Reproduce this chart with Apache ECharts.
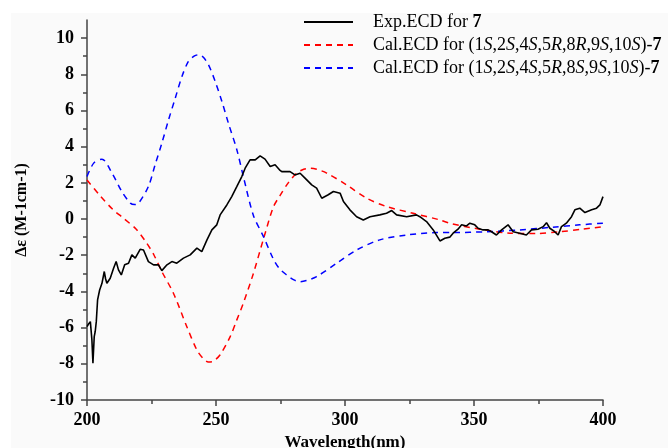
<!DOCTYPE html>
<html>
<head>
<meta charset="utf-8">
<script src="https://cdn.jsdelivr.net/npm/echarts@6/dist/echarts.min.js"></script>
<style>
  html, body { margin: 0; padding: 0; background: #fff; }
  #chart { width: 668px; height: 448px; }
</style>
</head>
<body>
<div id="chart"></div>
<script>
// experimental ECD, [wavelength, delta-epsilon]
var expEcd = [
  [200,-5.95],[200.6,-5.8],[201.3,-5.67],[201.9,-6.68],[202.3,-7.97],[202.8,-6.5],[203.2,-6.2],
  [203.6,-5.67],[204.1,-4.47],[204.9,-3.92],[205.8,-3.55],[206.7,-2.9],[207.2,-3.3],[207.7,-3.55],
  [209,-3.27],[210.3,-2.72],[211.3,-2.35],[212.2,-2.81],[213.3,-3.09],[214.6,-2.53],[216.1,-2.44],
  [217.4,-1.98],[218.7,-2.16],[220.6,-1.67],[221.9,-1.71],[223.8,-2.35],[225.8,-2.53],[227.7,-2.53],
  [229,-2.85],[231,-2.53],[232.9,-2.35],[234.8,-2.44],[237.4,-2.16],[240,-1.98],[242.6,-1.61],
  [244.5,-1.8],[246.5,-1.15],[248.4,-0.6],[250.3,-0.32],[251.6,0.23],[254.2,0.78],[256.1,1.24],
  [258.1,1.8],[260,2.35],[261.3,2.81],[263.2,3.27],[265.2,3.27],[267.1,3.49],[269,3.31],[271,2.9],
  [272.9,3.0],[274.6,2.72],[275.5,2.62],[278.7,2.62],[280.6,2.44],[282.6,2.53],[284.5,2.26],
  [287.1,1.89],[289,1.71],[291,1.15],[293.5,1.34],[295.5,1.52],[298.1,1.43],[299.4,0.97],
  [301.9,0.51],[304.5,0.13],[307.1,-0.05],[309.7,0.13],[313.5,0.23],[316.1,0.32],[318.1,0.47],
  [320,0.23],[323.9,0.13],[327.7,0.23],[329,0.13],[331.6,-0.14],[334.2,-0.6],[336.8,-1.21],
  [338.7,-1.06],[340.6,-1.0],[341.9,-0.78],[343.8,-0.56],[345.2,-0.32],[347.1,-0.38],[348.4,-0.23],
  [350.3,-0.32],[351.6,-0.51],[353.5,-0.6],[355.5,-0.6],[356.8,-0.7],[358.7,-0.88],[360.7,-0.6],
  [363.2,-0.32],[365.2,-0.7],[367.7,-0.78],[370.3,-0.88],[372.3,-0.6],[374.8,-0.56],[376.8,-0.42],
  [378.1,-0.2],[379.4,-0.51],[381.3,-0.7],[382.6,-0.88],[383.9,-0.42],[385.8,-0.23],[387.8,0.13],
  [389.1,0.51],[391,0.6],[393,0.36],[395.6,0.51],[397.5,0.6],[398.8,0.78],[400,1.24]
];

// calculated ECD, 8R isomer
var calR = [
  [200,2.16],[205,1.3],[210,0.53],[214,0.06],[219,-0.55],[223,-1.3],[226,-2.0],[229,-2.9],
  [233.5,-4.1],[238.7,-5.95],[242.6,-7.24],[245,-7.7],[247,-7.9],[249,-7.85],[251.6,-7.5],
  [255.5,-6.5],[258,-5.6],[260.6,-4.65],[264.5,-3.0],[268.4,-1.1],[272.2,0.65],[274.8,1.3],
  [278,2.0],[281.3,2.54],[284,2.75],[286.4,2.81],[289,2.75],[292.9,2.54],[300.6,1.89],
  [308.4,1.15],[316.1,0.69],[326.4,0.32],[336.8,-0.05],[340.6,-0.23],[352.2,-0.56],
  [363.9,-0.78],[374.2,-0.8],[383.2,-0.7],[392.2,-0.56],[400,-0.42]
];

// calculated ECD, 8S isomer
var calS = [
  [200,2.35],[202.6,3.09],[205.8,3.31],[209.7,2.54],[213.5,1.52],[216.8,0.88],[218.5,0.8],
  [220,0.88],[223.8,1.8],[226.4,3.0],[229,4.19],[231.6,5.48],[234.2,6.68],[236.8,7.88],
  [239.3,8.71],[241.5,9.0],[243.2,9.08],[245,8.95],[247.1,8.52],[249.7,7.6],[252.3,6.49],
  [254.8,5.3],[258.1,3.82],[260.6,2.35],[264.5,0.2],[268.4,-0.97],[272.2,-2.2],[274.5,-2.72],
  [277.4,-3.09],[280,-3.35],[282.6,-3.46],[285,-3.4],[289,-3.18],[296.8,-2.44],[304.5,-1.71],
  [313.5,-1.15],[323.9,-0.88],[335.5,-0.75],[341.9,-0.75],[354.8,-0.7],[367.7,-0.6],
  [380.6,-0.45],[390.9,-0.32],[400,-0.23]
];

var seriesNames = ['exp', 'calR', 'calS'];
var legendLabels = {
  exp: '{n|Exp.ECD for }{b|7}',
  calR: '{n|Cal.ECD for (1}{i|S}{n|,2}{i|S}{n|,4}{i|S}{n|,5}{i|R}{n|,8}{i|R}{n|,9}{i|S}{n|,10}{i|S}{n|)-}{b|7}',
  calS: '{n|Cal.ECD for (1}{i|S}{n|,2}{i|S}{n|,4}{i|S}{n|,5}{i|R}{n|,8}{i|S}{n|,9}{i|S}{n|,10}{i|S}{n|)-}{b|7}'
};
var yTicks = [-10, -8, -6, -4, -2, 0, 2, 4, 6, 8, 10];

var serif = '"Liberation Serif", "Times New Roman", serif';
var axisColor = '#444';

var chart = echarts.init(document.getElementById('chart'));
chart.setOption({
  backgroundColor: '#fff',
  animation: false,
  graphic: [{
    type: 'rect', z: -100, silent: true,
    shape: { x: 11, y: 13, width: 668, height: 448 },
    style: { fill: '#fafafa' }
  }],
  grid: { left: 87, right: 65, top: 20, bottom: 48, containLabel: false, outerBoundsMode: 'none' },
  legend: {
    orient: 'vertical',
    left: 298, top: 8,
    itemWidth: 49, itemHeight: 14, itemGap: 5,
    itemStyle: { opacity: 0 },
    data: seriesNames,
    formatter: function (name) { return legendLabels[name]; },
    textStyle: {
      fontFamily: serif, fontSize: 18, color: '#000',
      padding: [0, 0, 0, 15],
      rich: {
        n: { fontFamily: serif, fontSize: 18, color: '#000', lineHeight: 18 },
        i: { fontFamily: serif, fontSize: 18, color: '#000', fontStyle: 'italic', lineHeight: 18 },
        b: { fontFamily: serif, fontSize: 18, color: '#000', fontWeight: 'bold', lineHeight: 18 }
      }
    }
  },
  xAxis: {
    type: 'value', min: 200, max: 400, interval: 50,
    name: 'Wavelength(nm)', nameLocation: 'middle', nameGap: 29,
    nameTextStyle: { fontFamily: serif, fontSize: 17, fontWeight: 'bold', color: '#000' },
    axisLine: { onZero: false, lineStyle: { color: axisColor, width: 1.5 } },
    axisTick: { length: 6, lineStyle: { color: axisColor, width: 1.5 } },
    minorTick: { show: true, splitNumber: 2, length: 4, lineStyle: { color: axisColor, width: 1.5 } },
    axisLabel: { margin: 11, fontFamily: serif, fontSize: 18, fontWeight: 'bold', color: '#000' },
    splitLine: { show: false }
  },
  yAxis: {
    type: 'value', min: -10, max: 11, interval: 2,
    name: 'Δε (M-1cm-1)', nameLocation: 'middle', nameGap: 57,
    nameTextStyle: { fontFamily: serif, fontSize: 16, fontWeight: 'bold', color: '#000' },
    axisLine: { show: true, onZero: false, lineStyle: { color: axisColor, width: 1.5 } },
    axisTick: { show: true, length: 6, customValues: yTicks, lineStyle: { color: axisColor, width: 1.5 } },
    minorTick: { show: true, splitNumber: 2, length: 4, lineStyle: { color: axisColor, width: 1.5 } },
    axisLabel: { margin: 13, customValues: yTicks, fontFamily: serif, fontSize: 18, fontWeight: 'bold', color: '#000' },
    splitLine: { show: false }
  },
  series: [
    {
      name: 'exp', type: 'line', data: expEcd, symbol: 'none',
      lineStyle: { color: '#000', width: 1.6 }, itemStyle: { color: '#000' }, z: 4
    },
    {
      name: 'calR', type: 'line', data: calR, symbol: 'none', smooth: 0.3,
      lineStyle: { color: '#ff0000', width: 1.5, type: [6, 5] }, itemStyle: { color: '#ff0000' }
    },
    {
      name: 'calS', type: 'line', data: calS, symbol: 'none', smooth: 0.3,
      lineStyle: { color: '#0000ff', width: 1.5, type: [6, 5] }, itemStyle: { color: '#0000ff' }
    }
  ]
});
</script>
</body>
</html>
